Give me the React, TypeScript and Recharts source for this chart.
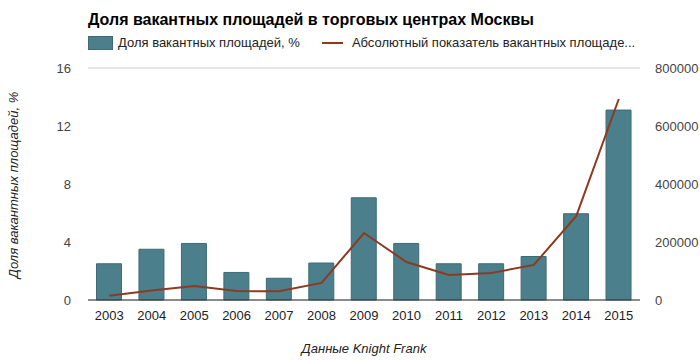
import React from "react";
import { ComposedChart, Bar, Line, XAxis, YAxis, CartesianGrid } from "recharts";

const years = ["2003","2004","2005","2006","2007","2008","2009","2010","2011","2012","2013","2014","2015"];
const vacancyShare = [2.5, 3.5, 3.9, 1.9, 1.5, 2.55, 7.05, 3.9, 2.5, 2.5, 3.0, 5.95, 13.1];
const vacancyAbs = [15000, 33000, 48000, 31000, 30000, 59000, 231000, 131000, 86000, 93000, 121000, 290000, 693000];
const leftTicks = [0, 4, 8, 12, 16];
const rightTicks = [0, 200000, 400000, 600000, 800000];

const title = "Доля вакантных площадей в торговых центрах Москвы";
const barName = "Доля вакантных площадей, %";
const lineName = "Абсолютный показатель вакантных площаде...";
const yLabel = "Доля вакантных площадей, %";
const sourceLabel = "Данные Knight Frank";

const data = years.map((y, i) => ({ year: y, share: vacancyShare[i], abs: vacancyAbs[i] }));

const FONT = "'Liberation Sans', Arial, sans-serif";
const BAR = "#4a7f8b";
const LINE = "#8e3a20";

export default function App() {
  return (
    <div style={{ position: "absolute", left: 0, top: 0, width: 700, height: 360, background: "#fff" }}>
      <div style={{ position: "absolute", left: 88, top: 11, fontFamily: FONT, fontWeight: "bold", fontSize: 16, color: "#000" }}>{title}</div>
      <div style={{ position: "absolute", left: 88, top: 35, display: "flex", alignItems: "center", fontFamily: FONT, fontSize: 13, color: "#222", whiteSpace: "nowrap" }}>
        <span style={{ display: "inline-block", width: 25, height: 14, background: BAR, border: "1px solid #3f6b75", boxSizing: "border-box", marginRight: 5 }} />
        <span style={{ marginRight: 22 }}>{barName}</span>
        <span style={{ display: "inline-block", width: 21, height: 2, background: LINE, marginRight: 9 }} />
        <span>{lineName}</span>
      </div>
      <ComposedChart width={700} height={360} data={data} margin={{ top: 68, right: 0, bottom: 30, left: 0 }} barCategoryGap="20%">
        <CartesianGrid vertical={false} stroke="#cccccc" />
        <XAxis dataKey="year" xAxisId="x" height={30} axisLine={{ stroke: "#333" }} tickLine={false} tickMargin={5}
          tick={{ fontFamily: FONT, fontSize: 13, fill: "#222" }} />
        <YAxis yAxisId="left" orientation="left" width={88} domain={[0, 16]} ticks={leftTicks} axisLine={false} tickLine={false}
          tickMargin={11} tick={{ fontFamily: FONT, fontSize: 13, fill: "#444" }} />
        <YAxis yAxisId="right" orientation="right" width={60} domain={[0, 800000]} ticks={rightTicks} axisLine={false} tickLine={false}
          tickMargin={9} tick={{ fontFamily: FONT, fontSize: 13, fill: "#444", textAnchor: "start" }} />
        <Bar dataKey="share" xAxisId="x" yAxisId="left" fill={BAR} stroke="#3f6b75" strokeWidth={1} isAnimationActive={false} name={barName} />
        <Line dataKey="abs" xAxisId="x" yAxisId="right" type="linear" stroke={LINE} strokeWidth={2} dot={false} activeDot={false}
          isAnimationActive={false} name={lineName} />
      </ComposedChart>
      <div style={{ position: "absolute", left: 13, top: 185, transform: "translate(-50%, -50%) rotate(-90deg)", whiteSpace: "nowrap",
        fontFamily: FONT, fontStyle: "italic", fontSize: 13, color: "#222" }}>{yLabel}</div>
      <div style={{ position: "absolute", left: 364, top: 348, transform: "translate(-50%, -50%)", whiteSpace: "nowrap",
        fontFamily: FONT, fontStyle: "italic", fontSize: 13, color: "#222" }}>{sourceLabel}</div>
    </div>
  );
}
